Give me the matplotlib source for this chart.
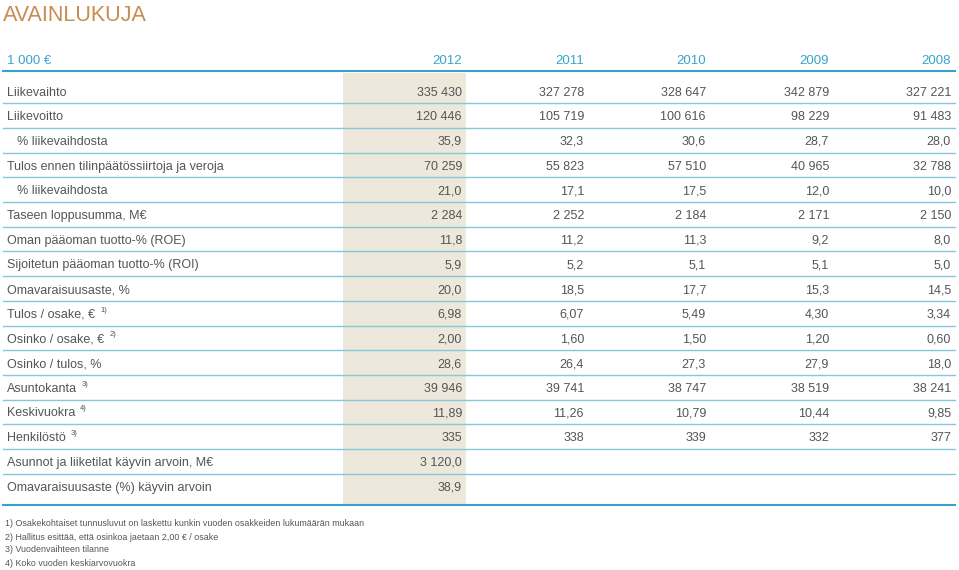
"""
Avainlukuja-taulukko (vuosikertomus 2012)
"""

import matplotlib.pyplot as plt
import matplotlib as mpl

mpl.rcParams['font.family'] = ['Liberation Sans', 'DejaVu Sans']

# taulukon data
title = 'AVAINLUKUJA'
unit_label = '1 000 €'
years = ['2012', '2011', '2010', '2009', '2008']

row_labels = [
    'Liikevaihto',
    'Liikevoitto',
    '% liikevaihdosta',
    'Tulos ennen tilinpäätössiirtoja ja veroja',
    '% liikevaihdosta',
    'Taseen loppusumma, M€',
    'Oman pääoman tuotto-% (ROE)',
    'Sijoitetun pääoman tuotto-% (ROI)',
    'Omavaraisuusaste, %',
    'Tulos / osake, €',
    'Osinko / osake, €',
    'Osinko / tulos, %',
    'Asuntokanta',
    'Keskivuokra',
    'Henkilöstö',
    'Asunnot ja liiketilat käyvin arvoin, M€',
    'Omavaraisuusaste (%) käyvin arvoin',
]
row_notes = ['', '', '', '', '', '', '', '', '', '1)', '2)', '', '3)', '4)', '3)', '', '']
indented = [2, 4]

values_2012 = ['335 430', '120 446', '35,9', '70 259', '21,0', '2 284', '11,8', '5,9', '20,0',
               '6,98', '2,00', '28,6', '39 946', '11,89', '335', '3 120,0', '38,9']
values_2011 = ['327 278', '105 719', '32,3', '55 823', '17,1', '2 252', '11,2', '5,2', '18,5',
               '6,07', '1,60', '26,4', '39 741', '11,26', '338', '', '']
values_2010 = ['328 647', '100 616', '30,6', '57 510', '17,5', '2 184', '11,3', '5,1', '17,7',
               '5,49', '1,50', '27,3', '38 747', '10,79', '339', '', '']
values_2009 = ['342 879', '98 229', '28,7', '40 965', '12,0', '2 171', '9,2', '5,1', '15,3',
               '4,30', '1,20', '27,9', '38 519', '10,44', '332', '', '']
values_2008 = ['327 221', '91 483', '28,0', '32 788', '10,0', '2 150', '8,0', '5,0', '14,5',
               '3,34', '0,60', '18,0', '38 241', '9,85', '377', '', '']
columns = [values_2012, values_2011, values_2010, values_2009, values_2008]

footnotes = [
    '1) Osakekohtaiset tunnusluvut on laskettu kunkin vuoden osakkeiden lukumäärän mukaan',
    '2) Hallitus esittää, että osinkoa jaetaan 2,00 € / osake',
    '3) Vuodenvaihteen tilanne',
    '4) Koko vuoden keskiarvovuokra',
]

# värit
title_color = '#C98B50'
blue = '#3AA2CA'
line_light = '#86C7D9'
shade = '#EEE7DB'
text_color = '#555555'

W, H = 959, 570
fig = plt.figure(figsize=(W / 100, H / 100), dpi=100)
ax = fig.add_axes([0, 0, 1, 1])
ax.set_xlim(0, W)
ax.set_ylim(H, 0)
ax.axis('off')

col_right = [462, 584, 706, 829, 951]
row_y0 = 91
row_step = 24.69
header_y = 59
header_line = 71
bottom_line = 505
x_left, x_right = 3, 955
VA = 'center_baseline'

# korostettu sarake
ax.fill_between([343, 466], header_line + 1.5, bottom_line - 1.5, color=shade, lw=0, zorder=0)

ax.text(3, 13, title, fontsize=15.5, color=title_color, va=VA, ha='left')

ax.text(7, header_y, unit_label, fontsize=9.5, color=blue, va=VA)
for x, yr in zip(col_right, years):
    ax.text(x, header_y, yr, fontsize=9.5, color=blue, va=VA, ha='right')
ax.plot([x_left, x_right], [header_line, header_line], color=blue, lw=1.5, zorder=2)

renderer = fig.canvas.get_renderer()
for i, label in enumerate(row_labels):
    y = row_y0 + i * row_step
    x = 17 if i in indented else 7
    t = ax.text(x, y, label, fontsize=9, color=text_color, va=VA, ha='left')
    if row_notes[i]:
        bb = t.get_window_extent(renderer)
        ax.text(bb.x1 + 5, y - 4, row_notes[i], fontsize=5.5, color=text_color,
                va=VA, ha='left')
    for x_r, col in zip(col_right, columns):
        if col[i]:
            ax.text(x_r, y, col[i], fontsize=9, color=text_color, va=VA, ha='right')
    if i < len(row_labels) - 1:
        ly = y + row_step / 2
        ax.plot([x_left, x_right], [ly, ly], color=line_light, lw=1.0, zorder=2)

ax.plot([x_left, x_right], [bottom_line, bottom_line], color=blue, lw=1.5, zorder=2)

for k, note in enumerate(footnotes):
    ax.text(5, 523 + k * 13, note, fontsize=6.4, color=text_color, va=VA, ha='left')

fig.savefig('out.png', dpi=100)
